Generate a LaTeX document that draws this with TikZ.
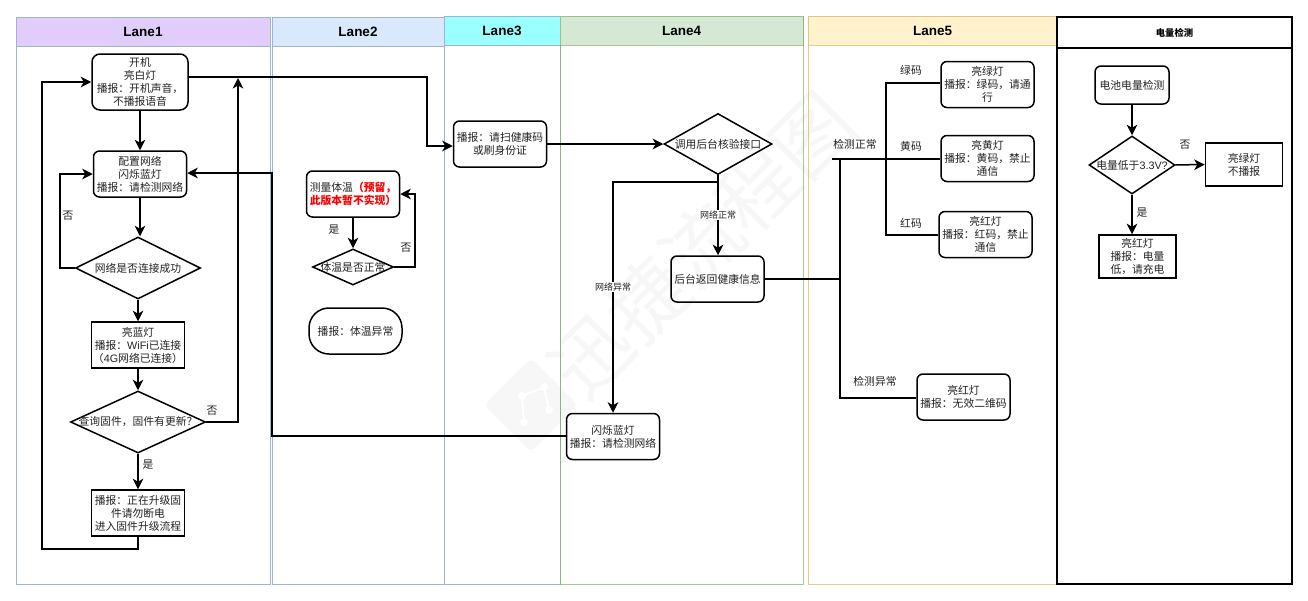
\documentclass[tikz,border=0pt]{standalone}
\usepackage{xcolor}
\usepackage{fontspec}
\setmainfont{Noto Sans CJK SC}
\newfontfamily\latinfont{Liberation Sans}
\usetikzlibrary{positioning, arrows.meta, shapes.geometric}

\definecolor{markgray}{HTML}{F7F7F7}
\definecolor{textgray}{HTML}{222222}
\definecolor{laneedge}{RGB}{160,180,210}

\newcommand{\dtext}[1]{\makebox[0pt]{#1}}

\begin{document}
\begin{tikzpicture}[
    x=1pt, y=-1pt,
    every node/.style={font=\fontsize{10.8}{13}\selectfont, text=textgray},
    lanebox/.style={draw, line width=0.8pt},
    lanehead/.style={draw, line width=0.8pt, inner sep=0pt, font=\latinfont\fontsize{13.5}{16}\selectfont\bfseries, text=black},
    state/.style={draw=black, line width=1.5pt, rectangle, rounded corners=6pt, align=center, inner sep=0pt, minimum width=93, minimum height=46},
    plain/.style={draw=black, line width=1.5pt, rectangle, align=center, inner sep=0pt, minimum width=93, minimum height=46},
    decide/.style={draw=black, line width=1.5pt, diamond, inner sep=0pt},
    tag/.style={inner sep=0pt},
    smalltag/.style={inner sep=1pt, fill=white, font=\fontsize{9}{11}\selectfont},
    link/.style={draw=black, line width=1.5pt},
    flow/.style={link, -{Stealth[length=10.5pt, width=10.5pt, inset=3pt]}},
]
\useasboundingbox (0,0) rectangle (1308,600);

% watermark
\node[tag, rotate=45, text=markgray, font=\fontsize{78}{80}\selectfont] (mark) at (702,245) {迅捷流程图};
\node[diamond, fill=markgray, rounded corners=6pt, minimum width=94, minimum height=94, inner sep=0pt] (logo) at (531,405) {};
\coordinate (m1) at (522,396);
\coordinate (m2) at (544,387);
\coordinate (m3) at (524,422);
\coordinate (m4) at (549,410);
\draw[white, line width=2pt] (m3) -- (m1) -- (m2) -- (m4);
\foreach \m in {m1,m2,m3,m4} \fill[white] (\m) circle (4);

% lanes
\node[lanebox, draw=laneedge, minimum width=254, minimum height=567] (lane1) at (143,300.5) {};
\node[lanehead, draw=laneedge, fill={rgb,255:red,225;green,205;blue,250}, minimum width=254, minimum height=29] (head1) at (143,31.5) {Lane1};
\node[lanebox, draw=laneedge, minimum width=172, minimum height=567] (lane2) at (358,300.5) {};
\node[lanehead, draw=laneedge, fill={rgb,255:red,218;green,232;blue,252}, minimum width=172, minimum height=29] (head2) at (358,31.5) {Lane2};
\node[lanebox, draw=laneedge, minimum width=116, minimum height=568] (lane3) at (502,300) {};
\node[lanehead, draw=laneedge, fill={rgb,255:red,153;green,255;blue,255}, minimum width=116, minimum height=29] (head3) at (502,30.5) {Lane3};
\node[lanebox, draw={rgb,255:red,130;green,179;blue,102}, draw opacity=.7, minimum width=243, minimum height=568] (lane4) at (681.5,300) {};
\node[lanehead, draw={rgb,255:red,130;green,179;blue,102}, draw opacity=.7, fill={rgb,255:red,213;green,232;blue,212}, minimum width=243, minimum height=29] (head4) at (681.5,30.5) {Lane4};
\node[lanebox, draw={rgb,255:red,214;green,182;blue,86}, draw opacity=.7, minimum width=249, minimum height=568] (lane5) at (932.5,300) {};
\node[lanehead, draw={rgb,255:red,214;green,182;blue,86}, draw opacity=.7, fill={rgb,255:red,255;green,242;blue,204}, minimum width=249, minimum height=29] (head5) at (932.5,30.5) {Lane5};
\node[lanebox, draw=black, line width=1.5pt, minimum width=235, minimum height=567] (lane6) at (1174.5,300.5) {};
\node[lanehead, draw=black, line width=1.5pt, fill=white, minimum width=235, minimum height=31, font=\fontsize{9.3}{11}\selectfont\bfseries] (head6) at (1174.5,32.5) {电量检测};

% lane 1
\node[state, minimum width=96, minimum height=56, rounded corners=8pt] (boot) at (140,82) {开机\\亮白灯\\播报：开机声音，\\不播报语音};
\node[state] (netcfg) at (140,174) {配置网络\\闪烁蓝灯\\播报：请检测网络};
\node[decide, minimum width=125, minimum height=62] (netok) at (138,268) {\dtext{网络是否连接成功}};
\node[plain] (bluelit) at (138,345) {亮蓝灯\\播报：{\latinfont WiFi}已连接\\（{\latinfont 4G}网络已连接）};
\node[decide, minimum width=135, minimum height=62] (fwchk) at (138,422) {\dtext{查询固件，固件有更新？}};
\node[plain] (fwup) at (138,513) {播报：正在升级固\\件请勿断电\\进入固件升级流程};
\node[tag] (no1) at (68,216) {否};
\node[tag] (no2) at (212,411) {否};
\node[tag] (yes1) at (148,465) {是};
\coordinate (backup) at (42,549);
\coordinate (skip) at (238,422);
\coordinate (skiptop) at (238,78);
\coordinate (retry) at (60,268);

\draw[flow] (boot) -- (netcfg);
\draw[flow] (netcfg.south) -- (netcfg.south |- netok.north);
\draw[flow] (netok) -- (bluelit);
\draw[flow] (bluelit) -- (fwchk);
\draw[flow] (fwchk) -- (fwup);
\draw[flow] (netok.west) -- (retry) |- (netcfg.west);
\draw[flow] (fwup.south) |- (backup) |- (boot.west);
\draw[flow] (fwchk.east) -- (skip) -- (skiptop);

% lane 2
\node[state, align=left] (temp) at (353,194) {测量体温{\color{red}\bfseries（预留，}\\{\color{red}\bfseries 此版本暂不实现）}};
\node[decide, minimum width=81, minimum height=36] (tempok) at (353,267) {\dtext{体温是否正常}};
\node[state, rounded corners=20pt] (tempbad) at (355.5,331) {播报：体温异常};
\node[tag] (yes2) at (334,230) {是};
\node[tag] (no3) at (406,248) {否};
\coordinate (tempback) at (415,267);

\draw[flow] (temp) -- (tempok);
\draw[flow] (tempok.east) -- (tempback) |- (temp.east);

% lane 3
\node[state] (scan) at (500,144) {播报：请扫健康码\\或刷身份证};
\coordinate (bootout) at (427,77);
\coordinate (bootdown) at (427,146);
\draw[flow] (boot.east |- bootout) -- (bootout) -- (bootdown) -- (scan.west |- bootdown);

% lane 4
\node[decide, minimum width=108, minimum height=61] (api) at (718,144) {\dtext{调用后台核验接口}};
\node[state] (health) at (717.5,279) {后台返回健康信息};
\node[state] (netbad) at (613,436.5) {闪烁蓝灯\\播报：请检测网络};
\coordinate (forkr) at (718,182);
\coordinate (forkl) at (613,182);
\coordinate (lane2up) at (272,436);
\coordinate (lane2top) at (272,173);

\draw[flow] (scan) -- (api);
\draw[flow] (api.south) -- (health.north -| api.south) node[smalltag, midway] (okweb) {网络正常};
\draw[flow] (forkr) -- (forkl) -- (netbad.north) node[smalltag, pos=.4545] (badweb) {网络异常};
\draw[flow] (netbad.west |- lane2up) -- (lane2up) -- (lane2top) -- (netcfg.east |- lane2top);

% lane 5
\node[state] (green) at (987.5,84.5) {亮绿灯\\播报：绿码，请通\\行};
\node[state] (yellow) at (987.5,158.5) {亮黄灯\\播报：黄码，禁止\\通信};
\node[state] (redlit) at (985.5,234.5) {亮红灯\\播报：红码，禁止\\通信};
\node[state] (invalid) at (963.5,397) {亮红灯\\播报：无效二维码};
\node[tag] (tgreen) at (911,70) {绿码};
\node[tag] (tyellow) at (911,146) {黄码};
\node[tag] (tred) at (911,223) {红码};
\node[tag] (tpass) at (855,144) {检测正常};
\node[tag] (tfail) at (875,381) {检测异常};
\coordinate (trunk) at (840,279);
\coordinate (trunktop) at (840,159);
\coordinate (trunkend) at (840,398);
\coordinate (stub) at (832,159);
\coordinate (branchtop) at (886,83);
\coordinate (branchend) at (886,235);

\draw[link] (health) -- (trunk);
\draw[link] (trunktop) -- (trunkend) -- (invalid.west |- trunkend);
\draw[link] (stub) -- (yellow.west |- stub);
\draw[link] (green.west |- branchtop) -- (branchtop) -- (branchend) -- (redlit.west |- branchend);

% battery
\node[state, minimum width=74, minimum height=38] (batt) at (1132,85) {电池电量检测};
\node[decide, minimum width=86, minimum height=58] (low) at (1132,165) {\dtext{电量低于{\latinfont 3.3V?}}};
\node[plain, minimum width=77, minimum height=43] (okbatt) at (1244,164.5) {亮绿灯\\不播报};
\node[plain, minimum width=77, minimum height=43] (lowbatt) at (1137.5,256.5) {亮红灯\\播报：电量\\低，请充电};
\node[tag] (no4) at (1185,145) {否};
\node[tag] (yes3) at (1142,213) {是};

\draw[flow] (batt) -- (low);
\draw[flow] (low) -- (okbatt);
\draw[flow] (low.south) -- (low.south |- lowbatt.north);
\end{tikzpicture}
\end{document}
